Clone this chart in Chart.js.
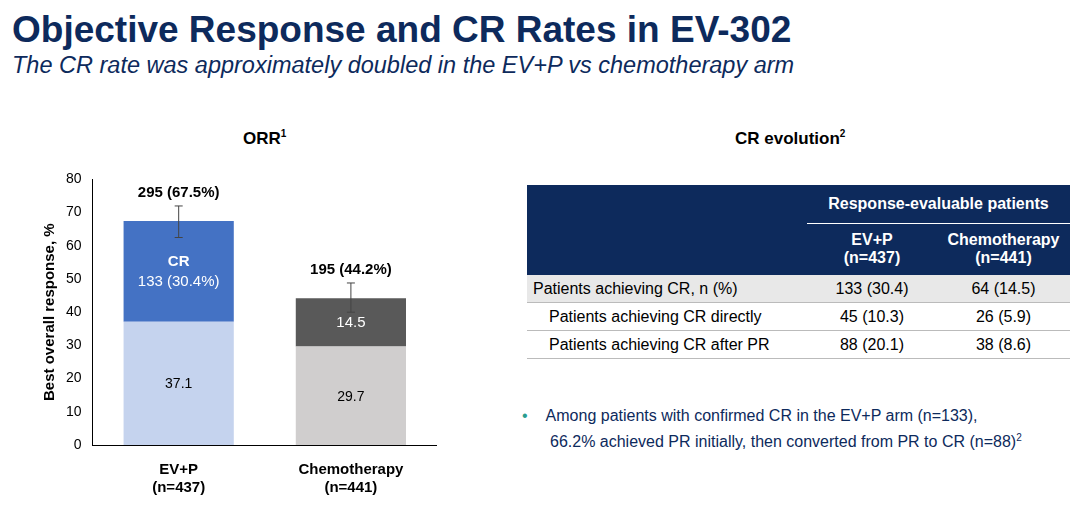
<!DOCTYPE html>
<html><head><meta charset="utf-8">
<script src="https://cdn.jsdelivr.net/npm/chart.js@4"></script>
<style>
body{margin:0;width:1080px;height:517px;background:#fff;font-family:Arial,"Liberation Sans",sans-serif;position:relative;overflow:hidden}
#t{position:absolute;left:12px;top:9px;font-size:37px;font-weight:bold;color:#0d2a5c}
#s{position:absolute;left:12px;top:52px;font-size:23.5px;font-style:italic;color:#0d2a5c}
.h{position:absolute;font-size:17px;font-weight:bold;color:#000}
#wrap{position:absolute;left:37px;top:168px;width:400px;height:337px}
table{position:absolute;left:527px;top:185px;width:543px;border-collapse:collapse;font-size:16px}
td{padding:0}
.n{background:#0d2a5c;color:#fff;font-weight:bold;text-align:center}
.r td{height:27px;border-bottom:1px solid #bbb}
.c{text-align:center}
#b{position:absolute;left:522px;top:405px;font-size:16px;color:#0d2a5c;line-height:22px}
</style></head><body>
<div id="t">Objective Response and CR Rates in EV-302</div>
<div id="s">The CR rate was approximately doubled in the EV+P vs chemotherapy arm</div>
<div class="h" style="left:243px;top:128px">ORR<sup style="font-size:10px">1</sup></div>
<div class="h" style="left:735px;top:128px">CR evolution<sup style="font-size:10px">2</sup></div>
<div id="wrap"><canvas id="c"></canvas></div>
<table>
<tr><td class="n" style="height:38px;width:280px"></td><td class="n" colspan="2" style="border-bottom:1px solid #fff">Response-evaluable patients</td></tr>
<tr><td class="n" style="height:52px"></td><td class="n" style="width:130px">EV+P<br>(n=437)</td><td class="n">Chemotherapy<br>(n=441)</td></tr>
<tr class="r" style="background:#e8e8e8"><td style="padding-left:6px">Patients achieving CR, n (%)</td><td class="c">133 (30.4)</td><td class="c">64 (14.5)</td></tr>
<tr class="r"><td style="padding-left:22px">Patients achieving CR directly</td><td class="c">45 (10.3)</td><td class="c">26 (5.9)</td></tr>
<tr class="r"><td style="padding-left:22px">Patients achieving CR after PR</td><td class="c">88 (20.1)</td><td class="c">38 (8.6)</td></tr>
</table>
<div id="b"><span style="color:#2a9d8f;margin-right:18px">•</span>Among patients with confirmed CR in the EV+P arm (n=133),<br><span style="margin-left:28px">66.2% achieved PR initially, then converted from PR to CR (n=88)<sup style="font-size:10px">2</sup></span></div>
<script>
var categories = [["EV+P","(n=437)"],["Chemotherapy","(n=441)"]];
var nonCR = [37.1, 29.7];
var cr = [30.4, 14.5];
var errHigh = [72.0, 48.8];
var errLow = [62.5, 40.0];
var totals = ["295 (67.5%)", "195 (44.2%)"];

var labels = {
  id:'labels',
  afterDatasetsDraw:function(chart){
    var ctx=chart.ctx, x=chart.scales.x, y=chart.scales.y;
    ctx.save();
    ctx.textAlign='center';
    for(var i=0;i<2;i++){
      var cx=x.getPixelForValue(i);
      ctx.strokeStyle='#444';ctx.lineWidth=1;
      ctx.beginPath();
      ctx.moveTo(cx,y.getPixelForValue(errLow[i]));ctx.lineTo(cx,y.getPixelForValue(errHigh[i]));
      ctx.moveTo(cx-4,y.getPixelForValue(errHigh[i]));ctx.lineTo(cx+4,y.getPixelForValue(errHigh[i]));
      ctx.moveTo(cx-4,y.getPixelForValue(errLow[i]));ctx.lineTo(cx+4,y.getPixelForValue(errLow[i]));
      ctx.stroke();
      ctx.fillStyle='#000';ctx.font='bold 15px Arial';
      ctx.fillText(totals[i],cx,y.getPixelForValue(errHigh[i])-9);
      ctx.font='14px Arial';
      ctx.fillText(nonCR[i].toFixed(1),cx,y.getPixelForValue(nonCR[i]/2)+5);
    }
    var c0=x.getPixelForValue(0), c1=x.getPixelForValue(1);
    ctx.fillStyle='#fff';ctx.font='bold 15px Arial';
    ctx.fillText('CR',c0,y.getPixelForValue(nonCR[0]+cr[0]*0.6)+5);
    ctx.font='15px Arial';
    ctx.fillText('133 ('+cr[0].toFixed(1)+'%)',c0,y.getPixelForValue(nonCR[0]+cr[0]*0.4)+5);
    ctx.fillText(cr[1].toFixed(1),c1,y.getPixelForValue(nonCR[1]+cr[1]/2)+5);
    ctx.restore();
  }
};

new Chart(document.getElementById('c'),{
  type:'bar',
  data:{labels:categories,datasets:[
    {data:nonCR,backgroundColor:['#c5d3ee','#d0cece'],barPercentage:0.64,categoryPercentage:1},
    {data:cr,backgroundColor:['#4472c4','#595959'],barPercentage:0.64,categoryPercentage:1}
  ]},
  options:{responsive:true,maintainAspectRatio:false,animation:false,
    layout:{padding:{top:10,right:0}},
    plugins:{legend:{display:false},tooltip:{enabled:false}},
    scales:{
      x:{stacked:true,grid:{display:false},border:{color:'#000'},
        ticks:{color:'#000',font:{size:15,weight:'bold',family:'Arial'},padding:8}},
      y:{stacked:true,min:0,max:80,grid:{display:false,drawTicks:true},border:{color:'#000'},
        ticks:{stepSize:10,color:'#000',font:{size:14,family:'Arial'}},
        title:{display:true,text:'Best overall response, %',color:'#000',font:{size:15,weight:'bold',family:'Arial'}}}
    }
  },
  plugins:[labels]
});
</script>
</body></html>
